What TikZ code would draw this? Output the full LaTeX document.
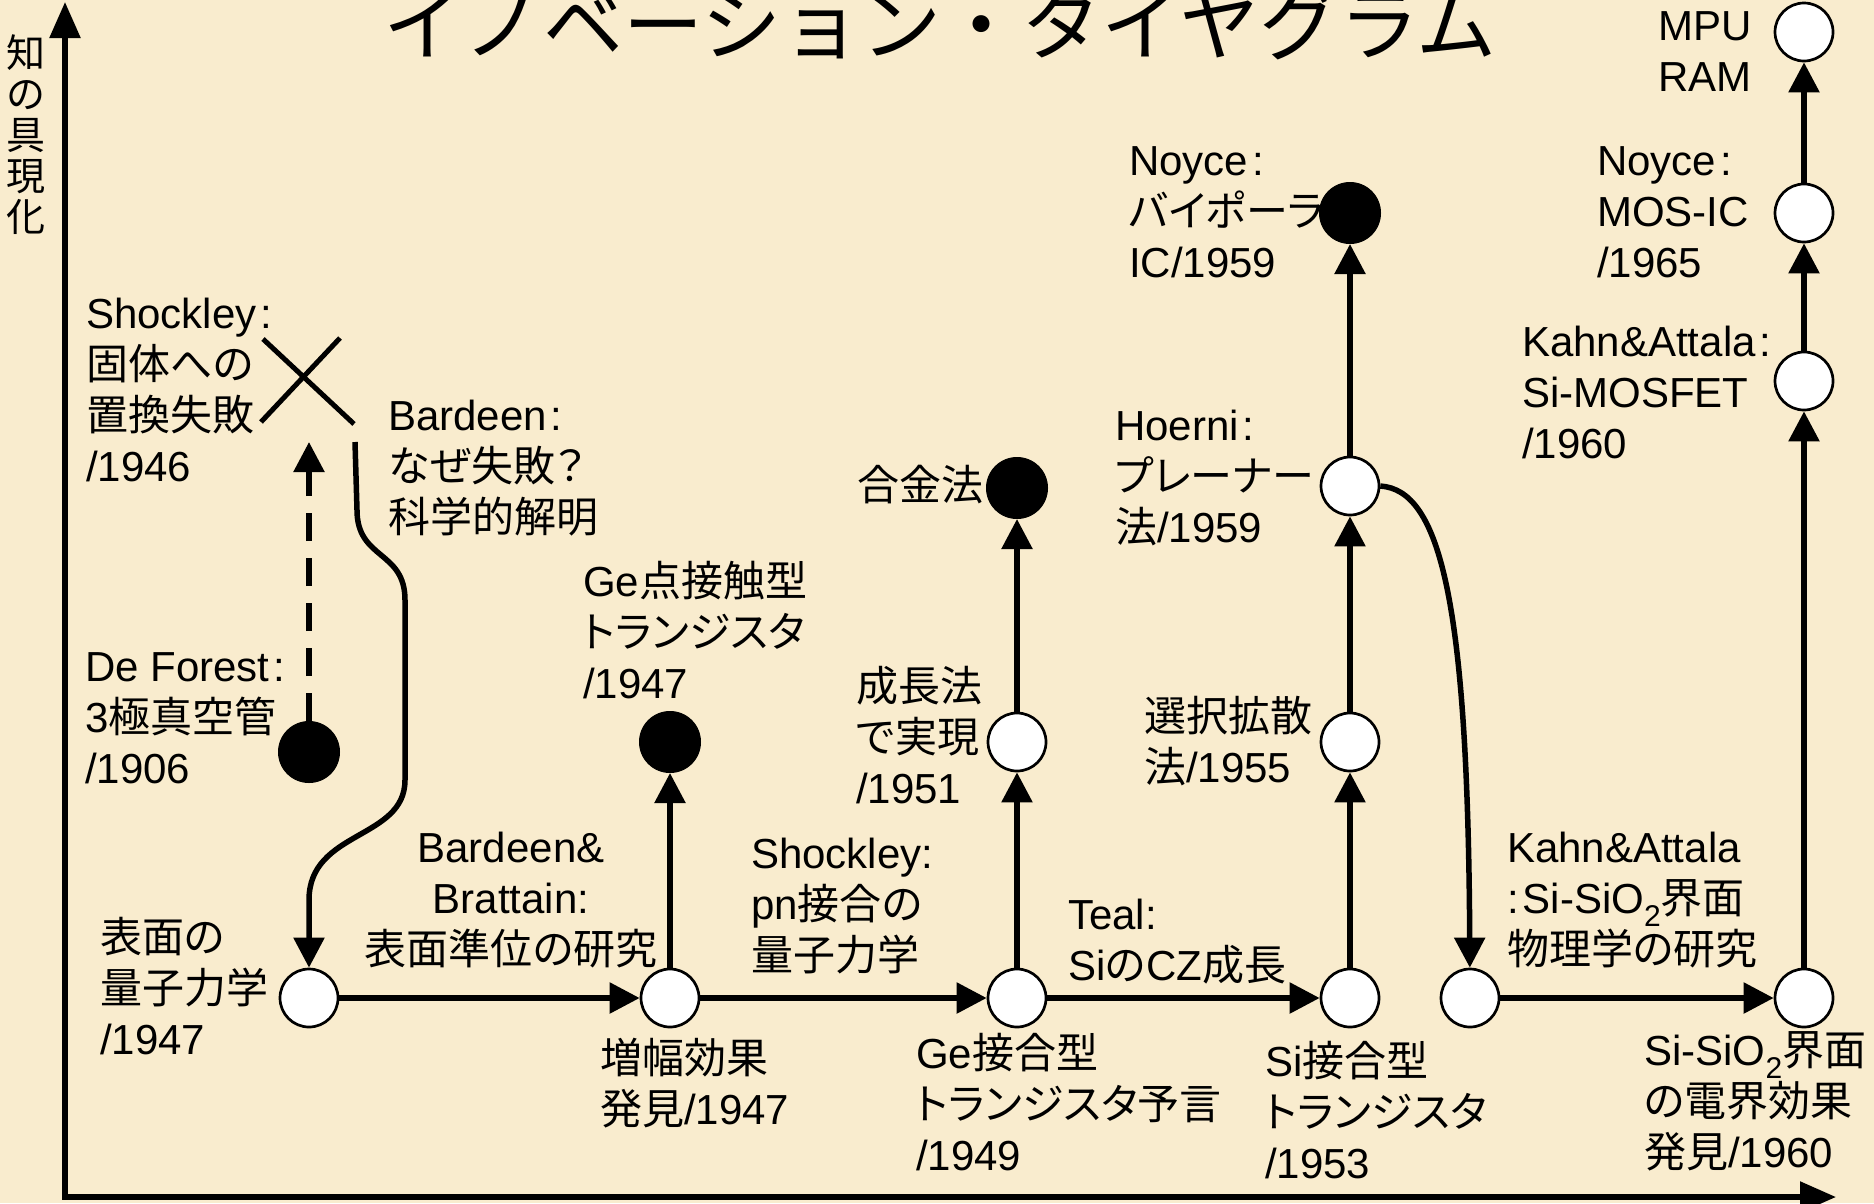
\documentclass[tikz,border=0pt]{standalone}
\usepackage{fontspec}
\setmainfont{Liberation Sans}
\newfontfamily\jp[RawFeature=+palt]{Noto Sans CJK JP}
\newfontfamily\jpt{Noto Sans CJK JP}
\usetikzlibrary{arrows.meta}
\newcommand\J[1]{{\jp #1}}
\newcommand\st{\rule{0pt}{38pt}}
\newcommand\sub{\raisebox{-13pt}[0pt][0pt]{\fontsize{30}{30}\selectfont 2}}
\definecolor{bg}{RGB}{249,236,206}
\begin{document}
\begin{tikzpicture}[x=1pt,y=-1pt,
  lbl/.style={inner sep=0pt, anchor=north west, align=left, font=\fontsize{42}{51}\selectfont},
  lblc/.style={lbl, anchor=north, align=center},
  wnode/.style={circle, draw=black, line width=2.7pt, fill=white, minimum size=58pt, inner sep=0pt},
  bnode/.style={circle, draw=black, fill=black, line width=1pt, minimum size=61pt, inner sep=0pt},
  conn/.style={line width=5.5pt, -{Triangle[length=30pt,width=30pt]}},
  axis/.style={line width=5.5pt, {Triangle[length=36pt,width=30pt]}-{Triangle[length=36pt,width=30pt]}}
]
\useasboundingbox (0,0) rectangle (1874,1203);
\clip (0,0) rectangle (1874,1203);
\fill[bg] (0,0) rectangle (1874,1203);

% title and axis label
\node[inner sep=0pt, anchor=base, font=\jpt\fontsize{80}{80}\selectfont] (title) at (940,54) {イノベーション・タイヤグラム};
\node[inner sep=0pt, anchor=north, align=center, font=\jpt\fontsize{39}{41}\selectfont] (ylab) at (26,33) {\rule{0pt}{34pt}知\\の\\具\\現\\化};

% axes
\coordinate (ytip) at (65,2);
\coordinate (orig) at (65,1197);
\coordinate (xtip) at (1836,1197);
\draw[axis, line join=miter] (ytip) -- (orig) -- (xtip);

% nodes
\node[wnode] (A) at (309,998) {};
\node[wnode] (B) at (670,998) {};
\node[bnode] (geP) at (670,742) {};
\node[bnode] (deF) at (309,752) {};
\node[wnode] (C) at (1017,998) {};
\node[wnode] (grow) at (1017,742) {};
\node[bnode] (alloy) at (1017,488) {};
\node[wnode] (D) at (1350,998) {};
\node[wnode] (sel) at (1350,742) {};
\node[wnode] (planar) at (1350,486) {};
\node[bnode] (bip) at (1350,213) {};
\node[wnode] (E) at (1470,998) {};
\node[wnode] (F) at (1804,998) {};
\node[wnode] (mosfet) at (1804,381) {};
\node[wnode] (mosic) at (1804,213) {};
\node[wnode] (mpu) at (1804,32) {};

% X mark
\draw[line width=5pt] (261,422) -- (340,338);
\draw[line width=5pt] (263,339) -- (354,424);

% connectors
\draw[conn] (A) -- (B);
\draw[conn] (B) -- (C);
\draw[conn] (C) -- (D);
\draw[conn] (E) -- (F);
\draw[conn] (B) -- (geP);
\draw[conn] (C) -- (grow);
\draw[conn] (grow) -- (alloy);
\draw[conn] (D) -- (sel);
\draw[conn] (sel) -- (planar);
\draw[conn] (planar) -- (bip);
\draw[conn] (F) -- (mosfet);
\draw[conn] (mosfet) -- (mosic);
\draw[conn] (mosic) -- (mpu);

\coordinate (xend) at (309,442);
\draw[conn, dash pattern=on 28pt off 17pt] (deF) -- (xend);

\coordinate (bst) at (355,442);
\draw[conn] (bst) -- (357,510) .. controls (357,560) and (405,550) .. (405,600) -- (405,780) .. controls (405,840) and (309,830) .. (309,900) -- (A);

\draw[conn] (planar.east) .. controls (1440,490) and (1468,600) .. (E);

% labels
\node[lbl] (l1) at (86,290) {\st Shockley\kern4pt:\\\J{固体への}\\\J{置換失敗}\\/1946};
\node[lbl] (l2) at (388,392) {\st Bardeen\kern4pt:\\\J{なぜ失敗？}\\\J{科学的解明}};
\node[lbl] (l3) at (85,643) {\st De Forest\kern4pt:\\3\J{極真空管}\\/1906};
\node[lbl] (l4) at (100,914) {\st\J{表面の}\\\J{量子力学}\\/1947};
\node[lblc] (l5) at (511,824) {\st Bardeen\&\\Brattain:\\\J{表面準位の研究}};
\node[lbl] (l6) at (583,558) {\st Ge\J{点接触型}\\\J{トランジスタ}\\/1947};
\node[lbl] (l7) at (600,1035) {\st\J{増幅効果}\\\J{発見}/1947};
\node[inner sep=0pt, anchor=base east, font=\fontsize{42}{51}\selectfont] (l8) at (984,500) {\J{合金法}};
\node[lbl] (l9) at (856,663) {\st\J{成長法}\\\J{で実現}\\/1951};
\node[lbl] (l10) at (751,830) {\st Shockley:\\pn\J{接合の}\\\J{量子力学}};
\node[lbl] (l11) at (916,1030) {\st Ge\J{接合型}\\\J{トランジスタ予言}\\/1949};
\node[lbl] (l12) at (1068,891) {\st Teal:\\Si\J{の}CZ\J{成長}};
\node[lbl] (l13) at (1144,693) {\st\J{選択拡散}\\\J{法}/1955};
\node[lbl] (l14) at (1115,402) {\st Hoerni\kern4pt:\\\J{プレーナー}\\\J{法}/1959};
\node[lbl] (l15) at (1265,1038) {\st Si\J{接合型}\\\J{トランジスタ}\\/1953};
\node[lbl] (l16) at (1129,137) {\st Noyce\kern4pt:\\\J{バイポーラ}\\IC/1959};
\node[lbl] (l17) at (1597,137) {\st Noyce\kern4pt:\\MOS-IC\\/1965};
\node[lbl] (l18) at (1522,318) {\st Kahn\&Attala\kern4pt:\\Si-MOSFET\\/1960};
\node[lblc] (l19) at (1705,2) {\st MPU\\RAM};
\node[lbl] (l20) at (1507,824) {\st Kahn\&Attala\\:\kern4pt Si-SiO\sub\J{界面}\\\J{物理学の研究}};
\node[lbl] (l21) at (1644,1027) {\st Si-SiO\sub\J{界面}\\\J{の電界効果}\\\J{発見}/1960};
\end{tikzpicture}
\end{document}
